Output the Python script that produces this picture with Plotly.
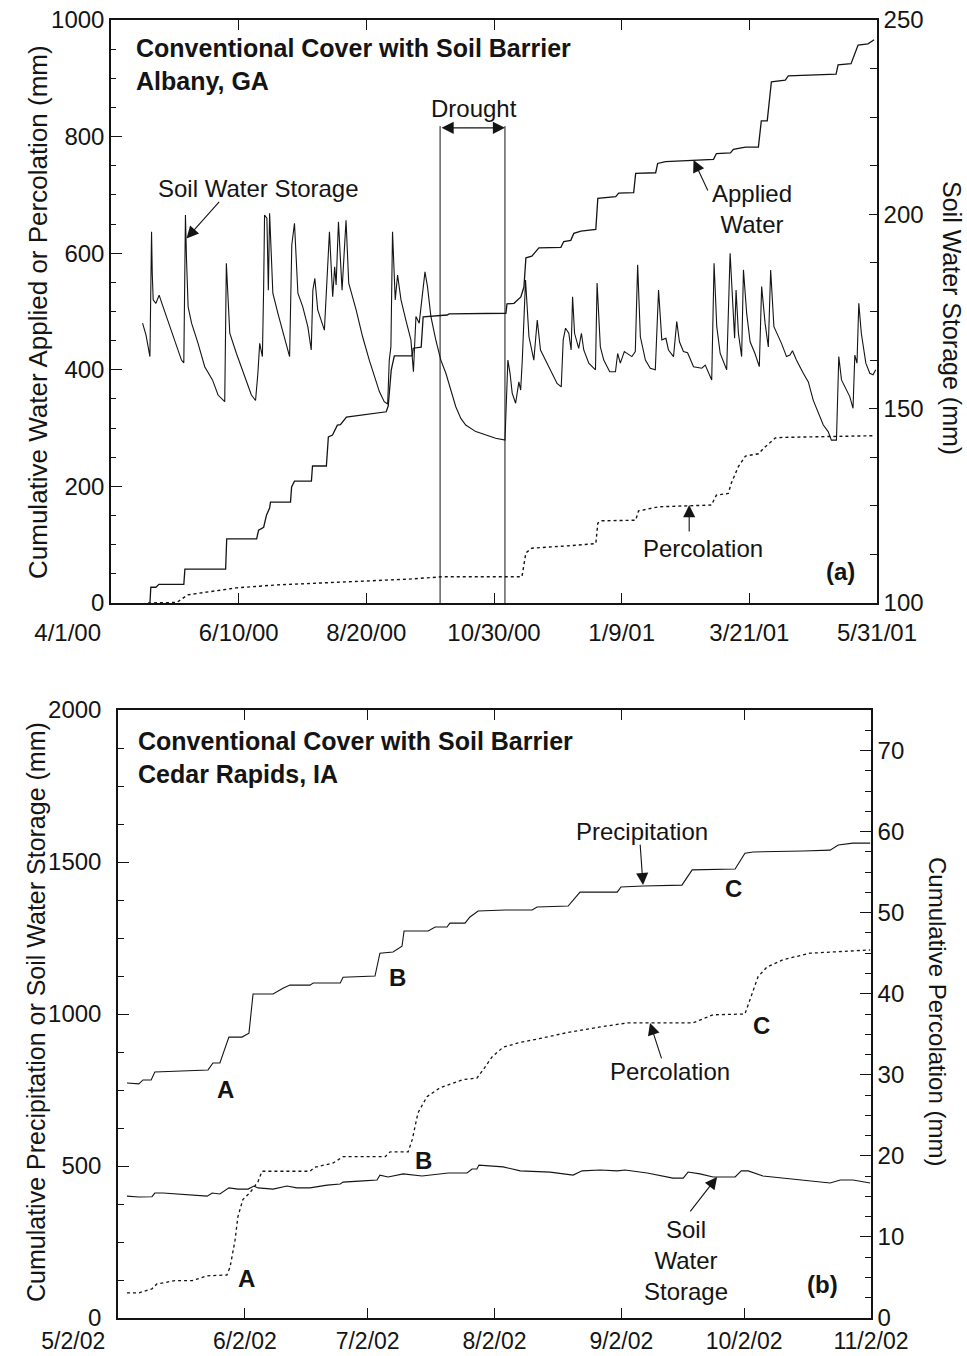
import pandas as pd
import plotly.graph_objects as go

# ---------------- Panel (a): Albany, GA ----------------
alb_start = "2000-04-01"
alb_end = "2001-05-31"
alb_tick_labels = ["4/1/00", "6/10/00", "8/20/00", "10/30/00", "1/9/01", "3/21/01", "5/31/01"]

# cumulative applied water (mm), days since 4/1/00
alb_applied_day = [21.6, 22.1, 24.9, 26.6, 40.4, 41.0, 63.6, 64.2, 80.8, 81.9, 84.7, 86.3, 88.0, 88.5, 99.6,
                   100.2, 101.8, 111.2, 111.8, 119.5, 120.6, 122.9, 125.6, 127.3, 130.6, 137.8, 152.7, 153.8,
                   155.5, 157.2, 167.1, 167.7, 172.1, 173.2, 186.5, 187.6, 219.1, 219.7, 223.6, 227.4, 229.1,
                   230.2, 233.5, 237.4, 249.6, 251.2, 255.1, 256.8, 260.7, 269.0, 270.1, 280.0, 281.7, 290.0,
                   291.1, 302.2, 303.3, 307.7, 323.2, 334.3, 335.9, 343.7, 345.3, 352.0, 359.2, 360.8, 364.1,
                   366.4, 374.1, 375.8, 402.3, 403.4, 410.6, 412.3, 414.5, 420.0, 423.4]
alb_applied_mm = [0, 27, 27, 32, 32, 58, 58, 110, 110, 125, 130, 151, 163, 173, 173,
                  199, 209, 209, 235, 235, 285, 288, 305, 306, 319, 322, 328, 338,
                  400, 424, 424, 437, 439, 491, 494, 496, 497, 513, 514, 525, 542,
                  592, 595, 609, 610, 620, 622, 634, 638, 641, 694, 697, 703, 704,
                  737, 738, 754, 757, 760, 761, 771, 772, 778, 782, 782, 827, 827,
                  894, 897, 904, 907, 923, 925, 940, 957, 959, 966]

# cumulative percolation (mm)
alb_perc_day = [20.5, 36.5, 42.6, 47.6, 69.7, 91.9, 128.4, 165.5, 183.7, 228.0, 230.2, 233.5, 257.9, 269.0,
                270.1, 272.3, 291.1, 292.7, 303.8, 333.1, 335.9, 342.5, 344.2, 348.1, 352.0, 359.2, 363.0,
                368.6, 371.9, 399.6, 423.9]
alb_perc_mm = [0, 1, 14, 16, 26, 31, 36, 41, 45, 45, 86, 94, 99, 102,
               137, 141, 142, 158, 165, 168, 185, 188, 206, 234, 252, 256, 268,
               283, 284, 285, 287]

# soil water storage (mm, right axis)
alb_sws_day = [17.5, 19.4, 21.6, 22.5, 22.9, 23.4, 24.9, 26.7, 28.9, 32.7, 36.4, 39.1, 40.4, 41.3, 41.9, 42.8,
               44.7, 48.3, 52.0, 56.3, 59.4, 63.1, 64.0, 65.9, 69.6, 74.2, 77.9, 80.2, 81.5, 82.5, 84.0, 84.7,
               85.2, 86.5, 87.3, 88.0, 89.8, 92.6, 96.3, 99.1, 100.3, 101.8, 103.7, 106.4, 109.2, 111.1, 112.0,
               113.1, 114.7, 118.4, 121.2, 123.0, 124.1, 124.9, 126.2, 128.2, 130.4, 131.9, 136.0, 139.6, 143.3,
               146.1, 148.9, 151.6, 153.5, 154.4, 155.3, 156.2, 157.7, 159.0, 160.9, 163.6, 166.4, 167.8, 169.2,
               171.0, 172.8, 174.2, 175.6, 177.5, 180.2, 183.0, 185.8, 188.5, 191.3, 194.1, 196.8, 202.4, 207.9,
               213.4, 218.6, 220.2, 221.4, 222.6, 224.5, 226.3, 227.3, 228.2, 230.0, 231.9, 234.6, 236.5, 238.3,
               241.1, 244.8, 247.5, 249.8, 250.9, 252.2, 254.0, 255.3, 256.1, 257.2, 259.5, 261.0, 262.3, 265.1,
               268.8, 269.7, 271.5, 273.4, 276.7, 279.9, 281.1, 282.6, 284.8, 289.0, 290.9, 292.2, 293.7, 296.5,
               299.2, 302.0, 303.8, 305.6, 307.9, 309.3, 312.1, 313.9, 315.4, 317.6, 319.9, 323.2, 327.8, 329.7,
               333.3, 334.6, 336.1, 338.0, 341.6, 343.5, 344.9, 346.0, 346.8, 348.1, 349.9, 350.9, 352.7, 354.6,
               357.3, 359.7, 361.0, 362.9, 364.7, 366.0, 367.8, 372.0, 374.8, 376.7, 378.1, 380.3, 384.1, 386.9,
               389.6, 392.4, 395.2, 397.9, 399.7, 402.5, 403.8, 405.3, 408.0, 409.9, 411.7, 412.7, 413.9, 414.9,
               416.3, 418.8, 421.0, 422.8, 424.3]
alb_sws_mm = [172.0, 169.0, 163.4, 195.5, 184.8, 178.0, 177.1, 179.2, 176.2, 171.1, 165.9, 162.5, 161.8, 199.8, 188.3, 176.2,
              172.0, 166.8, 160.8, 157.4, 153.5, 151.8, 187.4, 169.4, 164.2, 158.2, 153.5, 152.1, 159.1, 166.8, 163.4, 181.4,
              199.8, 199.0, 180.5, 200.3, 179.7, 174.5, 168.5, 163.4, 192.1, 197.7, 179.7, 176.2, 171.1, 165.1, 180.5,
              183.5, 175.4, 170.2, 195.5, 178.8, 186.5, 181.8, 198.1, 180.5, 198.5, 182.3, 175.4, 168.5, 162.5,
              158.2, 154.4, 151.8, 151.2, 162.5, 165.9, 195.5, 178.0, 184.4, 178.0, 172.8, 167.7, 159.5, 173.7,
              172.0, 180.5, 185.2, 181.4, 173.7, 167.7, 162.5, 159.1, 154.8, 150.5, 147.5, 145.8, 144.1, 143.2,
              142.4, 141.9, 162.5, 159.1, 154.0, 151.4, 156.9, 154.8, 162.5, 183.1, 168.5, 162.5, 172.8, 165.1,
              162.5, 159.1, 156.5, 155.6, 167.7, 170.7, 169.4, 165.1, 178.8, 169.4, 165.5, 169.4, 165.1, 161.7,
              160.0, 182.3, 165.9, 162.5, 159.5, 159.5, 164.2, 161.7, 164.7, 163.4, 164.7, 187.0, 168.5, 162.5,
              160.4, 160.0, 180.5, 167.7, 168.1, 165.1, 163.4, 172.4, 167.2, 164.7, 164.4, 160.8, 160.4, 161.2,
              157.4, 187.4, 171.1, 164.2, 160.0, 190.0, 178.0, 168.1, 180.5, 169.4, 163.4, 185.7, 174.5, 167.2,
              164.2, 160.8, 181.4, 172.0, 165.9, 185.7, 171.1, 166.8, 163.4, 163.8, 164.9, 162.5, 159.1, 156.9,
              152.2, 148.8, 145.8, 144.1, 141.9, 141.9, 163.4, 157.4, 154.8, 153.1, 150.1, 163.8, 161.7, 177.1,
              169.4, 161.7, 159.1, 158.7, 160.0]

alb_drought = ["2000-09-30 14:00", "2000-11-05 14:00"]
alb_drought_top_mm = 818

# ---------------- Panel (b): Cedar Rapids, IA ----------------
cr_start = "2002-05-02"
cr_end = "2002-11-02"
cr_tick_dates = ["2002-05-02", "2002-06-02", "2002-07-02", "2002-08-02", "2002-09-02", "2002-10-02", "2002-11-02"]
cr_tick_labels = ["5/2/02", "6/2/02", "7/2/02", "8/2/02", "9/2/02", "10/2/02", "11/2/02"]

cr_precip_day = [2.2, 5.1, 6.1, 8.1, 9.0, 13.4, 22.0, 23.2, 24.9, 27.1, 30.3, 32.0, 33.0, 37.9, 40.3, 42.0, 46.9,
                 47.7, 54.3, 55.0, 62.8, 64.0, 67.2, 69.4, 69.9, 75.8, 77.5, 80.4, 81.1, 84.8, 86.0, 88.0, 94.6,
                 101.2, 102.4, 110.0, 111.2, 112.9, 122.0, 122.9, 128.3, 137.8, 140.3, 150.8, 153.2, 155.2, 167.4,
                 174.0, 176.0, 179.6, 183.8]
cr_precip_mm = [773, 770, 783, 783, 809, 812, 816, 839, 839, 924, 924, 937, 1066, 1066, 1085, 1095, 1095,
                1102, 1102, 1121, 1125, 1200, 1204, 1223, 1273, 1273, 1286, 1286, 1299, 1299, 1319, 1339, 1342,
                1342, 1352, 1355, 1375, 1401, 1401, 1418, 1421, 1424, 1474, 1477, 1529, 1533, 1536,
                1539, 1556, 1562, 1562]

cr_sws_day = [2.2, 5.1, 8.3, 9.0, 11.0, 21.8, 23.0, 24.9, 27.1, 29.3, 31.8, 33.2, 34.2, 37.9, 41.3, 43.7, 46.9,
              51.1, 54.3, 55.0, 59.9, 63.3, 64.0, 66.0, 69.7, 74.3, 80.7, 85.3, 86.5, 87.7, 88.2, 94.1, 98.3,
              105.6, 111.2, 113.4, 117.8, 122.0, 123.9, 129.3, 135.6, 138.1, 139.3, 142.2, 145.4, 150.8, 152.3,
              154.0, 157.6, 162.5, 168.4, 174.0, 176.5, 179.6, 183.8]
cr_sws_mm = [401, 398, 399, 411, 411, 401, 411, 408, 428, 424, 424, 434, 428, 424, 434, 428, 428,
             437, 441, 447, 451, 454, 470, 464, 474, 467, 477, 477, 490, 490, 503, 497, 484,
             480, 470, 484, 487, 484, 487, 477, 460, 460, 480, 474, 464, 464, 484,
             484, 467, 460, 454, 444, 454, 454, 444]

cr_perc_day = [2.2, 5.1, 8.3, 9.5, 13.9, 18.1, 21.8, 26.6, 27.4, 28.6, 29.3, 30.5, 32.3, 34.2, 35.2, 46.9, 48.1,
               52.5, 55.0, 65.3, 66.5, 70.9, 71.9, 73.3, 75.5, 78.7, 84.3, 87.7, 89.2, 91.4, 94.1, 98.3, 101.4,
               109.7, 117.8, 124.4, 140.5, 145.4, 153.2, 155.2, 156.4, 158.6, 162.5, 169.1, 178.9, 183.8]
cr_perc_mm = [3.1, 3.1, 3.6, 4.2, 4.6, 4.6, 5.2, 5.3, 6.3, 9.6, 12.5, 14.6, 15.5, 16.8, 18.1, 18.1, 18.6,
              19.1, 19.9, 19.9, 20.5, 20.5, 22.0, 25.3, 27.3, 28.4, 29.4, 29.6, 30.6, 32.2, 33.4, 34.0, 34.3,
              35.2, 35.9, 36.4, 36.4, 37.4, 37.5, 40.5, 42.1, 43.3, 44.2, 45.0, 45.3, 45.4]


def to_dates(start, days):
    return pd.Timestamp(start) + pd.to_timedelta(days, unit="D")


W, H = 967, 1356
INK = "#141414"
FONT = "Liberation Sans, Arial, Helvetica, sans-serif"


def px(x):
    return x / W


def py(y):
    return 1 - y / H


fig = go.Figure()

line_style = dict(color=INK, width=1.3)
dot_style = dict(color=INK, width=1.4, dash="dot")

fig.add_trace(go.Scatter(x=to_dates(alb_start, alb_applied_day), y=alb_applied_mm, mode="lines",
                         line=line_style, xaxis="x", yaxis="y", name="Applied Water"))
fig.add_trace(go.Scatter(x=to_dates(alb_start, alb_perc_day), y=alb_perc_mm, mode="lines",
                         line=dot_style, xaxis="x", yaxis="y", name="Percolation"))
fig.add_trace(go.Scatter(x=to_dates(alb_start, alb_sws_day), y=alb_sws_mm, mode="lines",
                         line=dict(color=INK, width=1.1), xaxis="x", yaxis="y2", name="Soil Water Storage"))

fig.add_trace(go.Scatter(x=to_dates(cr_start, cr_precip_day), y=cr_precip_mm, mode="lines",
                         line=dict(color=INK, width=1.1), xaxis="x2", yaxis="y3", name="Precipitation"))
fig.add_trace(go.Scatter(x=to_dates(cr_start, cr_sws_day), y=cr_sws_mm, mode="lines",
                         line=dict(color=INK, width=1.1), xaxis="x2", yaxis="y3", name="Soil Water Storage"))
fig.add_trace(go.Scatter(x=to_dates(cr_start, cr_perc_day), y=cr_perc_mm, mode="lines",
                         line=dict(color=INK, width=1.3, dash="dot"), xaxis="x2", yaxis="y4", name="Percolation"))

# tick positions for panel (a): 6 equal intervals over the date range
a0, a1 = pd.Timestamp(alb_start), pd.Timestamp(alb_end)
alb_tickvals = [a0 + (a1 - a0) * i / 6 for i in range(7)]
pad = "\u00a0" * 13
alb_ticktext = [alb_tick_labels[0] + pad] + alb_tick_labels[1:]
cr_ticktext = [cr_tick_labels[0] + "\u00a0" * 14] + cr_tick_labels[1:]

tickfont = dict(family=FONT, size=24, color=INK)
axis_common = dict(showline=True, linecolor=INK, linewidth=1.5, showgrid=False, zeroline=False,
                   ticks="inside", tickcolor=INK, tickwidth=1.3, automargin=False)

fig.update_layout(
    width=W, height=H, autosize=False,
    margin=dict(l=0, r=0, t=0, b=0, pad=0),
    paper_bgcolor="white", plot_bgcolor="white",
    showlegend=False,
    font=dict(family=FONT, color=INK),
    xaxis=dict(domain=[px(111), px(877)], anchor="y", type="date",
               range=[alb_start, alb_end], tickmode="array", tickvals=alb_tickvals,
               ticktext=alb_ticktext, tickangle=0, ticklen=10, mirror="ticks",
               ticklabelstandoff=7, tickfont=tickfont, **axis_common),
    yaxis=dict(domain=[py(603), py(20)], anchor="x", range=[0, 1000], tick0=0, dtick=200,
               ticklen=11, minor=dict(dtick=50, tick0=0, ticklen=5, ticks="inside", tickcolor=INK),
               tickfont=tickfont, **axis_common),
    yaxis2=dict(overlaying="y", side="right", anchor="x", range=[100, 250], tick0=100, dtick=50,
                ticklen=8, minor=dict(dtick=12.5, tick0=100, ticklen=7, ticks="inside", tickcolor=INK),
                tickfont=tickfont, **axis_common),
    xaxis2=dict(domain=[px(118), px(871)], anchor="y3", type="date",
                range=[cr_start, cr_end], tickmode="array", tickvals=cr_tick_dates,
                ticktext=cr_ticktext, tickangle=0, ticklen=10, mirror="ticks",
                ticklabelstandoff=2, tickfont=dict(family=FONT, size=23, color=INK), **axis_common),
    yaxis3=dict(domain=[py(1318), py(710)], anchor="x2", range=[0, 2000], tick0=0, dtick=500,
                ticklen=11, minor=dict(dtick=125, tick0=0, ticklen=6, ticks="inside", tickcolor=INK),
                ticklabelstandoff=10, tickfont=tickfont, **axis_common),
    yaxis4=dict(overlaying="y3", side="right", anchor="x2", range=[0, 75], tick0=0, dtick=10,
                ticklen=11, minor=dict(dtick=2.5, tick0=0, ticklen=6, ticks="inside", tickcolor=INK),
                tickfont=tickfont, **axis_common),
)

# drought markers
for d in alb_drought:
    fig.add_shape(type="line", xref="x", yref="y", x0=d, x1=d, y0=0, y1=alb_drought_top_mm,
                  line=dict(color=INK, width=1))

ann = []


def label(text, x, y, size=24, bold=False, xanchor="center", align="center"):
    t = f"<b>{text}</b>" if bold else text
    ann.append(dict(text=t, x=px(x), y=py(y), xref="paper", yref="paper", showarrow=False,
                    xanchor=xanchor, yanchor="middle", align=align,
                    font=dict(family=FONT, size=size, color=INK)))


def vtitle(text, x, y, angle, size=24):
    ann.append(dict(text=text, x=px(x), y=py(y), xref="paper", yref="paper", showarrow=False,
                    xanchor="center", yanchor="middle", textangle=angle,
                    font=dict(family=FONT, size=size, color=INK)))


def arrow(x, y, xref, yref, ax, ay):
    ann.append(dict(text="", x=x, y=y, xref=xref, yref=yref, ax=ax, ay=ay, showarrow=True,
                    arrowhead=2, arrowsize=2.2, arrowwidth=1.1, arrowcolor=INK, standoff=0))


# axis titles
vtitle("Cumulative Water Applied or Percolation (mm)", 38, 312, -90, size=26)
vtitle("Soil Water Storage (mm)", 952, 318, 90, size=25)
vtitle("Cumulative Precipitation or Soil Water Storage (mm)", 36, 1012, -90, size=25)
vtitle("Cumulative Percolation (mm)", 938, 1011, 90, size=24)

# panel (a) labels
label("Conventional Cover with Soil Barrier<br>Albany, GA", 134, 65, size=25, bold=True,
      xanchor="left", align="left")
label("Drought", 474, 108)
label("Soil Water Storage", 258, 188)
label("Applied<br>Water", 752, 209)
label("Percolation", 703, 548)
label("(a)", 840, 571, bold=True)

# drought double arrow
ann.append(dict(text="", x=alb_drought[1], y=815, xref="x", yref="y", ax=alb_drought[0], ay=815,
                axref="x", ayref="y", showarrow=True, arrowside="end+start", arrowhead=2, startarrowhead=2,
                arrowsize=2.2, startarrowsize=2.2, arrowwidth=1.1, arrowcolor=INK, standoff=0, startstandoff=0))

arrow(to_dates(alb_start, [41.9])[0], 193.8, "x", "y2", 34, -38)
arrow(to_dates(alb_start, [323.2])[0], 760, "x", "y", 15, 32)
arrow(to_dates(alb_start, [320.8])[0], 168, "x", "y", 0, 28)

# panel (b) labels
label("Conventional Cover with Soil Barrier<br>Cedar Rapids, IA", 136, 757, size=25, bold=True,
      xanchor="left", align="left")
label("Precipitation", 642, 831)
label("Percolation", 670, 1071)
label("Soil<br>Water<br>Storage", 686, 1260)
label("(b)", 822, 1284, bold=True)
for t, x, y in [("A", 225, 1089), ("B", 397, 977), ("C", 733, 888),
                ("A", 246, 1278), ("B", 423, 1160), ("C", 761, 1025)]:
    label(t, x, y, bold=True)

arrow(to_dates(cr_start, [128.3])[0], 1424, "x2", "y3", -3, -42)
arrow(to_dates(cr_start, [130.0])[0], 36.4, "x2", "y4", 12, 37)
arrow(to_dates(cr_start, [146.4])[0], 464, "x2", "y3", -28, 36)

fig.update_layout(annotations=ann)

fig.write_html("out.html")
